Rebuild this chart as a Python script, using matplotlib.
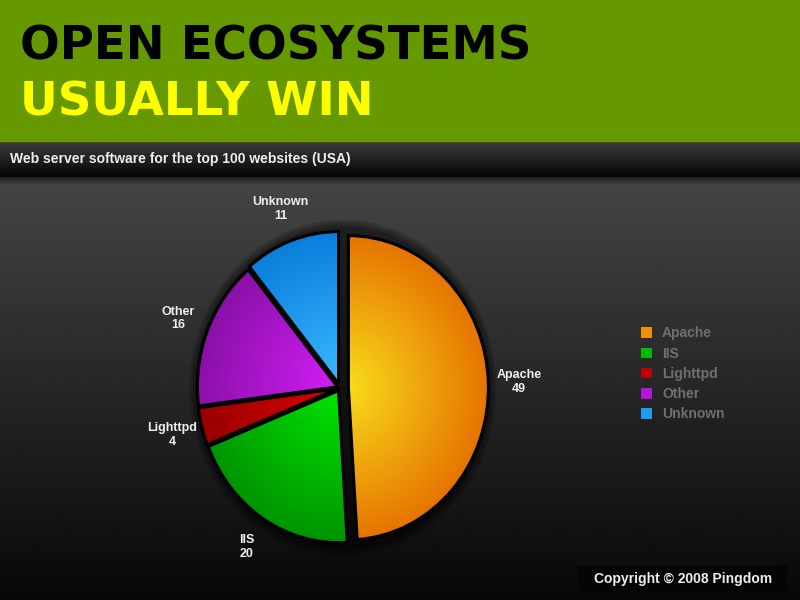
import numpy as np
import matplotlib
matplotlib.use('Agg')
import matplotlib.pyplot as plt
from matplotlib.patches import Ellipse
from matplotlib.colors import LinearSegmentedColormap

# data
servers = ['Apache', 'IIS', 'Lighttpd', 'Other', 'Unknown']
counts = [49, 20, 4, 16, 11]
base_colors = ['#f0900a', '#00bb00', '#c00000', '#b018d8', '#1e9cf0']
inner_colors = ['#f8dc1c', '#00e400', '#dd0000', '#d21ef5', '#3ab8ff']
outer_colors = ['#e67400', '#009400', '#980000', '#8a10a8', '#0a7edc']
explode = [0.06, 0.02, 0.02, 0.02, 0.03]

title_1 = 'OPEN ECOSYSTEMS'
title_2 = 'USUALLY WIN'
subtitle = 'Web server software for the top 100 websites (USA)'
credit = 'Copyright \u00a9 2008 Pingdom'

fig = plt.figure(figsize=(8, 6), dpi=100)

# background, drawn in pixel coordinates
bg = fig.add_axes([0, 0, 1, 1])
bg.set_xlim(0, 800)
bg.set_ylim(600, 0)
bg.axis('off')

body = np.linspace(0.27, 0.03, 200)[:, None] * np.ones((1, 2))
bg.imshow(body, extent=[0, 800, 600, 180], cmap='gray', vmin=0, vmax=1,
          aspect='auto', interpolation='bilinear')
bar = np.linspace(0.24, 0.02, 50)[:, None] * np.ones((1, 2))
bg.imshow(bar, extent=[0, 800, 177, 141], cmap='gray', vmin=0, vmax=1,
          aspect='auto', interpolation='bilinear')
shadow = np.linspace(0.12, 0.27, 20)[:, None] * np.ones((1, 2))
bg.imshow(shadow, extent=[0, 800, 185, 177], cmap='gray', vmin=0, vmax=1,
          aspect='auto', interpolation='bilinear')
bg.add_patch(plt.Rectangle((0, 0), 800, 141, color='#669900', zorder=3))
bg.add_patch(plt.Rectangle((578, 566), 208, 26, color='#050505', zorder=3))

bg.text(20, 59, title_1, fontsize=33.6, fontweight='bold', color='black',
        family='DejaVu Sans', va='baseline', zorder=4)
bg.text(20, 115, title_2, fontsize=33.6, fontweight='bold', color='#ffff00',
        family='DejaVu Sans', va='baseline', zorder=4)
bg.text(10, 159, subtitle, fontsize=10, fontweight='bold', color='#eeeeee',
        family='Liberation Sans', va='center', zorder=4)
bg.text(683, 579, credit, fontsize=10, fontweight='bold', color='#eeeeee',
        family='Liberation Sans', va='center', ha='center', zorder=4)

# pie
ax = fig.add_axes([172 / 800, 29.5 / 600, 336 / 800, 365 / 600])
labels = [f'{s}\n{c}' for s, c in zip(servers, counts)]
wedges, texts = ax.pie(counts, labels=labels, colors=base_colors, explode=explode,
                       startangle=90, counterclock=False, labeldistance=1.22,
                       wedgeprops=dict(edgecolor='black', linewidth=2.2),
                       textprops=dict(color='#eeeeee', fontsize=9, fontweight='bold',
                                      family='Liberation Sans', ha='center',
                                      multialignment='center'))
ax.set_aspect('auto')

# soft dark glow behind the pie
for k in range(4):
    ax.add_patch(Ellipse((0.02, 0), 2.1 + 0.03 * k, 2.12 + 0.03 * k,
                         facecolor='black', edgecolor='none', alpha=0.15, zorder=0))

gx, gy = np.meshgrid(np.linspace(-1.3, 1.3, 300), np.linspace(-1.3, 1.3, 300))
for w, c_in, c_out in zip(wedges, inner_colors, outer_colors):
    cx, cy = w.center
    r = np.clip(np.hypot(gx - cx, gy - cy), 0, 1)
    cmap = LinearSegmentedColormap.from_list('g', [c_in, c_out])
    im = ax.imshow(r, extent=[-1.3, 1.3, -1.3, 1.3], origin='lower', cmap=cmap,
                   vmin=0, vmax=1, aspect='auto', zorder=w.get_zorder() - 0.5)
    im.set_clip_path(w)
    w.set_facecolor('none')
ax.set_xlim(-1.2, 1.2)
ax.set_ylim(-1.2, 1.2)

leg = fig.legend(handles=[plt.Rectangle((0, 0), 1, 1, facecolor=c, edgecolor='none')
                          for c in base_colors],
                 labels=servers, loc='upper left', bbox_to_anchor=(628 / 800, 1 - 314 / 600),
                 frameon=False, handlelength=0.8, handleheight=0.8,
                 handletextpad=0.75, labelspacing=0.45,
                 prop=dict(family='Liberation Sans', size=10, weight='bold'))
for t in leg.get_texts():
    t.set_color('#707070')

fig.savefig('out.png', dpi=100)
